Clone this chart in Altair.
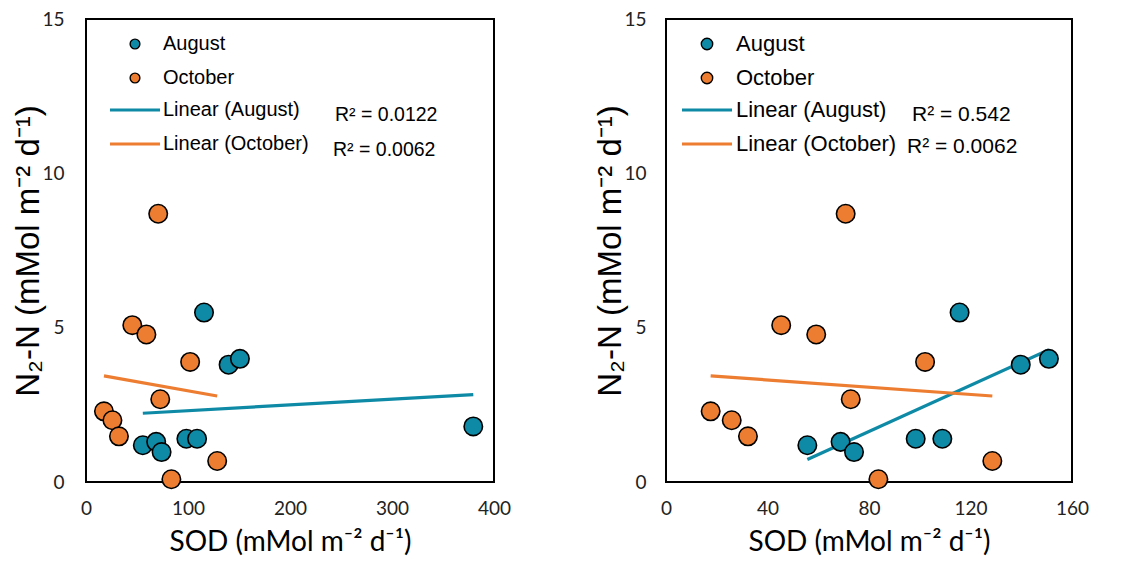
import altair as alt
import pandas as pd

# ---- data ----
months = ["August", "October"]
aug_sod = [55.7, 68.8, 74.1, 98.4, 108.9, 115.7, 139.8, 150.9, 379.7]
aug_n2 = [1.19, 1.30, 0.97, 1.40, 1.40, 5.49, 3.80, 3.99, 1.80]
oct_sod = [17.6, 25.9, 32.3, 45.4, 59.2, 70.8, 72.8, 83.7, 102.1, 128.6]
oct_n2 = [2.29, 2.00, 1.48, 5.08, 4.78, 8.69, 2.68, 0.09, 3.89, 0.68]
trend_labels = ["Linear (August)", "Linear (October)"]
r2_left = ["R² = 0.0122", "R² = 0.0062"]
r2_right = ["R² = 0.542", "R² = 0.0062"]
x_ticks_left = [0, 100, 200, 300, 400]
x_ticks_right = [0, 40, 80, 120, 160]
y_ticks = [0, 5, 10, 15]

colors = ["#0E8AA6", "#ED7D31"]

df = pd.DataFrame({
    "month": ["August"] * len(aug_sod) + ["October"] * len(oct_sod),
    "sod": aug_sod + oct_sod,
    "n2": aug_n2 + oct_n2,
})

X_TITLE = "SOD (mMol m⁻² d⁻¹)"
Y_TITLE = "N₂-N  (mMol m⁻² d⁻¹)"
color_scale = alt.Scale(domain=months, range=colors)


def panel(data, xmax, xticks, r2, w, h, leg):
    x = alt.X("sod:Q", scale=alt.Scale(domain=[0, xmax], nice=False, zero=True),
              axis=alt.Axis(values=xticks, title=X_TITLE, labelPadding=17,
                            titlePadding=10, format="d", labelFlush=False))
    y = alt.Y("n2:Q", scale=alt.Scale(domain=[0, 15], nice=False),
              axis=alt.Axis(values=y_ticks, title=Y_TITLE, labelPadding=leg["ylp"],
                            titlePadding=-4, labelFlush=False))
    base = alt.Chart(data)
    lines = base.transform_regression("sod", "n2", groupby=["month"]).mark_line(
        strokeWidth=3.2).encode(
        x=x, y=y, color=alt.Color("month:N", scale=color_scale, legend=None))
    pts = base.mark_circle(size=340, opacity=1, stroke="black", strokeWidth=1.6).encode(
        x=x, y=y, color=alt.Color("month:N", scale=color_scale, legend=None))

    layers = [lines, pts]
    fs = leg["fs"]
    rfs = leg["rfs"]
    ys = [25, 59, 91, 125]
    for i, m in enumerate(months):
        d1 = pd.DataFrame({"label": [m]})
        layers.append(alt.Chart(d1).mark_circle(size=leg["ms"], opacity=1, stroke="black",
                                                strokeWidth=1.4, color=colors[i]).encode(
            x=alt.value(leg["mx"]), y=alt.value(ys[i])))
        layers.append(alt.Chart(d1).mark_text(align="left", baseline="middle", fontSize=fs,
                                              font="Liberation Sans", color="black").encode(
            x=alt.value(leg["tx"]), y=alt.value(ys[i]), text="label:N"))
    for i, lab in enumerate(trend_labels):
        d2 = pd.DataFrame({"label": [lab]})
        layers.append(alt.Chart(d2).mark_rule(strokeWidth=3.2, color=colors[i]).encode(
            x=alt.value(leg["lx1"]), x2=alt.value(leg["lx2"]), y=alt.value(ys[2 + i])))
        layers.append(alt.Chart(d2).mark_text(align="left", baseline="middle", fontSize=fs,
                                              font="Liberation Sans", color="black").encode(
            x=alt.value(leg["tx"]), y=alt.value(ys[2 + i]), text="label:N"))
        d3 = pd.DataFrame({"label": [r2[i]]})
        layers.append(alt.Chart(d3).mark_text(align="left", baseline="middle", fontSize=rfs,
                                              font="Liberation Sans", color="black").encode(
            x=alt.value(leg["rx"][i]), y=alt.value(leg["ry"][i]), text="label:N"))
    return alt.layer(*layers).properties(width=w, height=h)


left = panel(df, 400, x_ticks_left, r2_left, 408, 463,
             dict(fs=20, rfs=19.5, ms=95, mx=49, tx=77, lx1=24, lx2=74,
                  rx=[249, 247], ry=[96, 131], ylp=22))
right_df = df[df["sod"] <= 160]
right = panel(right_df, 160, x_ticks_right, r2_right, 406, 463,
              dict(fs=22, rfs=21, ms=130, mx=41, tx=70, lx1=16, lx2=66,
                   rx=[246, 241], ry=[96, 128], ylp=20))

chart = alt.hconcat(left, right, spacing=81).properties(
    padding={"left": 3, "top": 1, "right": 0, "bottom": 0}
).configure_view(stroke="black", strokeWidth=2).configure_axis(
    grid=False, ticks=False, domain=False,
    labelFont="Lato", labelFontSize=19, labelColor="#222222",
    titleFont="Lato", titleFontWeight="normal", titleColor="black",
).configure_axisX(titleFontSize=28).configure_axisY(
    titleFont="Liberation Sans", titleFontSize=33)

chart.save("out.html", embed_options={"renderer": "svg", "actions": False})
